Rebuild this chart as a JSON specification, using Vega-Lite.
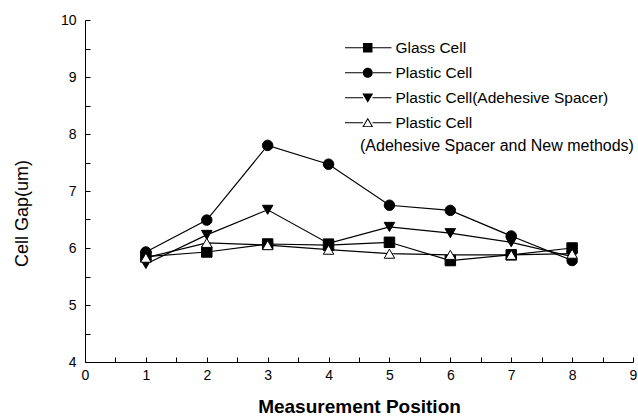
{
  "$schema": "https://vega.github.io/schema/vega-lite/v6.json",
  "width": 548,
  "height": 342,
  "autosize": {"type": "none"},
  "padding": {"left": 85, "top": 20, "right": 5, "bottom": 57},
  "background": "white",
  "config": {
    "view": {"stroke": null},
    "font": "Liberation Sans",
    "axis": {"grid": false, "domainColor": "black", "tickColor": "black", "labelColor": "black", "titleColor": "black", "labelFont": "Liberation Sans", "titleFont": "Liberation Sans"}
  },
  "data": {
    "values": [
      {"series": "Glass Cell", "pos": 1, "gap": 5.85},
      {"series": "Glass Cell", "pos": 2, "gap": 5.93},
      {"series": "Glass Cell", "pos": 3, "gap": 6.07},
      {"series": "Glass Cell", "pos": 4, "gap": 6.05},
      {"series": "Glass Cell", "pos": 5, "gap": 6.1},
      {"series": "Glass Cell", "pos": 6, "gap": 5.78},
      {"series": "Glass Cell", "pos": 7, "gap": 5.88},
      {"series": "Glass Cell", "pos": 8, "gap": 6.0},
      {"series": "Plastic Cell", "pos": 1, "gap": 5.93},
      {"series": "Plastic Cell", "pos": 2, "gap": 6.49},
      {"series": "Plastic Cell", "pos": 3, "gap": 7.8},
      {"series": "Plastic Cell", "pos": 4, "gap": 7.47},
      {"series": "Plastic Cell", "pos": 5, "gap": 6.75},
      {"series": "Plastic Cell", "pos": 6, "gap": 6.66},
      {"series": "Plastic Cell", "pos": 7, "gap": 6.21},
      {"series": "Plastic Cell", "pos": 8, "gap": 5.78},
      {"series": "Plastic Cell(Adehesive Spacer)", "pos": 1, "gap": 5.72},
      {"series": "Plastic Cell(Adehesive Spacer)", "pos": 2, "gap": 6.23},
      {"series": "Plastic Cell(Adehesive Spacer)", "pos": 3, "gap": 6.67},
      {"series": "Plastic Cell(Adehesive Spacer)", "pos": 4, "gap": 6.08},
      {"series": "Plastic Cell(Adehesive Spacer)", "pos": 5, "gap": 6.37},
      {"series": "Plastic Cell(Adehesive Spacer)", "pos": 6, "gap": 6.26},
      {"series": "Plastic Cell(Adehesive Spacer)", "pos": 7, "gap": 6.1},
      {"series": "Plastic Cell(Adehesive Spacer)", "pos": 8, "gap": 5.85},
      {"series": "Plastic Cell ", "pos": 1, "gap": 5.83},
      {"series": "Plastic Cell ", "pos": 2, "gap": 6.09},
      {"series": "Plastic Cell ", "pos": 3, "gap": 6.05},
      {"series": "Plastic Cell ", "pos": 4, "gap": 5.97},
      {"series": "Plastic Cell ", "pos": 5, "gap": 5.9},
      {"series": "Plastic Cell ", "pos": 6, "gap": 5.88},
      {"series": "Plastic Cell ", "pos": 7, "gap": 5.88},
      {"series": "Plastic Cell ", "pos": 8, "gap": 5.9}
    ]
  },
  "encoding": {
    "x": {
      "field": "pos", "type": "quantitative",
      "scale": {"domain": [0, 9], "nice": false},
      "axis": {
        "values": [0, 0.5, 1, 1.5, 2, 2.5, 3, 3.5, 4, 4.5, 5, 5.5, 6, 6.5, 7, 7.5, 8, 8.5, 9],
        "labelExpr": "datum.value % 1 ? '' : format(datum.value, 'd')",
        "tickSize": -5, "labelPadding": 11, "labelFontSize": 14,
        "title": "Measurement Position", "titleFontSize": 19, "titleFontWeight": "bold", "titlePadding": 15,
        "labelFlush": false
      }
    },
    "y": {
      "field": "gap", "type": "quantitative",
      "scale": {"domain": [4, 10], "nice": false, "zero": false},
      "axis": {
        "values": [4, 4.5, 5, 5.5, 6, 6.5, 7, 7.5, 8, 8.5, 9, 9.5, 10],
        "labelExpr": "datum.value % 1 ? '' : format(datum.value, 'd')",
        "tickSize": -5, "labelPadding": 14, "labelFontSize": 14,
        "title": "Cell Gap(um)", "titleFontSize": 18, "titleFontWeight": "normal", "titlePadding": 29, "titleY": 193
      }
    }
  },
  "resolve": {"scale": {"shape": "independent", "fill": "independent"}, "legend": {"shape": "independent", "fill": "independent"}},
  "layer": [
    {
      "mark": {"type": "line", "color": "black", "strokeWidth": 1.2},
      "encoding": {"detail": {"field": "series"}}
    },
    {
      "mark": {"type": "point", "size": 110, "stroke": "black", "strokeWidth": 1, "opacity": 1, "filled": false},
      "encoding": {
        "shape": {
          "field": "series", "type": "nominal",
          "scale": {"domain": ["Glass Cell", "Plastic Cell", "Plastic Cell(Adehesive Spacer)", "Plastic Cell "], "range": ["square", "circle", "triangle-down", "triangle-up"]},
          "legend": null
        },
        "fill": {
          "field": "series", "type": "nominal",
          "scale": {"domain": ["Glass Cell", "Plastic Cell", "Plastic Cell(Adehesive Spacer)", "Plastic Cell "], "range": ["black", "black", "black", "white"]},
          "legend": null
        }
      }
    },
    {
      "transform": [{"filter": "datum.pos > 100"}],
      "mark": {"type": "point", "filled": true, "color": "black", "opacity": 1},
      "encoding": {
        "shape": {
          "field": "series", "type": "nominal",
          "sort": ["Glass Cell", "Plastic Cell", "Plastic Cell(Adehesive Spacer)", "Plastic Cell "],
          "scale": {"domain": ["Glass Cell", "Plastic Cell", "Plastic Cell(Adehesive Spacer)", "Plastic Cell "],
            "range": [
              "M-1,-1H1V1H-1ZM-4.8,-0.11H-1V0.11H-4.8ZM1,-0.11H5V0.11H1Z",
              "M-1.05,0A1.05,1.05 0 1,0 1.05,0A1.05,1.05 0 1,0 -1.05,0ZM-4.8,-0.11H-1V0.11H-4.8ZM1,-0.11H5V0.11H1Z",
              "M-1.15,-0.9L1.15,-0.9L0,1.05ZM-4.8,-0.11H-1V0.11H-4.8ZM1,-0.11H5V0.11H1Z",
              "M-1.15,0.9L1.15,0.9L0,-1.05ZM-0.8,0.72L0,-0.65L0.8,0.72ZM-4.8,-0.11H-1V0.11H-4.8ZM1,-0.11H5V0.11H1Z"
            ]},
          "legend": {
            "title": "(Adehesive Spacer and New methods)",
            "titleOrient": "bottom", "titleFontWeight": "normal", "titleFontSize": 16, "titleAnchor": "start", "titlePadding": 7, "titleColor": "black", "titleFont": "Liberation Sans", "titleLimit": 400,
            "orient": "none", "legendX": 275, "legendY": 20, "padding": 0,
            "labelFontSize": 15.5, "labelFont": "Liberation Sans", "labelColor": "black", "labelOffset": 20, "labelLimit": 400,
            "symbolSize": 90, "symbolFillColor": "black", "symbolStrokeWidth": 0, "rowPadding": 8
          }
        }
      }
    }
  ]
}
